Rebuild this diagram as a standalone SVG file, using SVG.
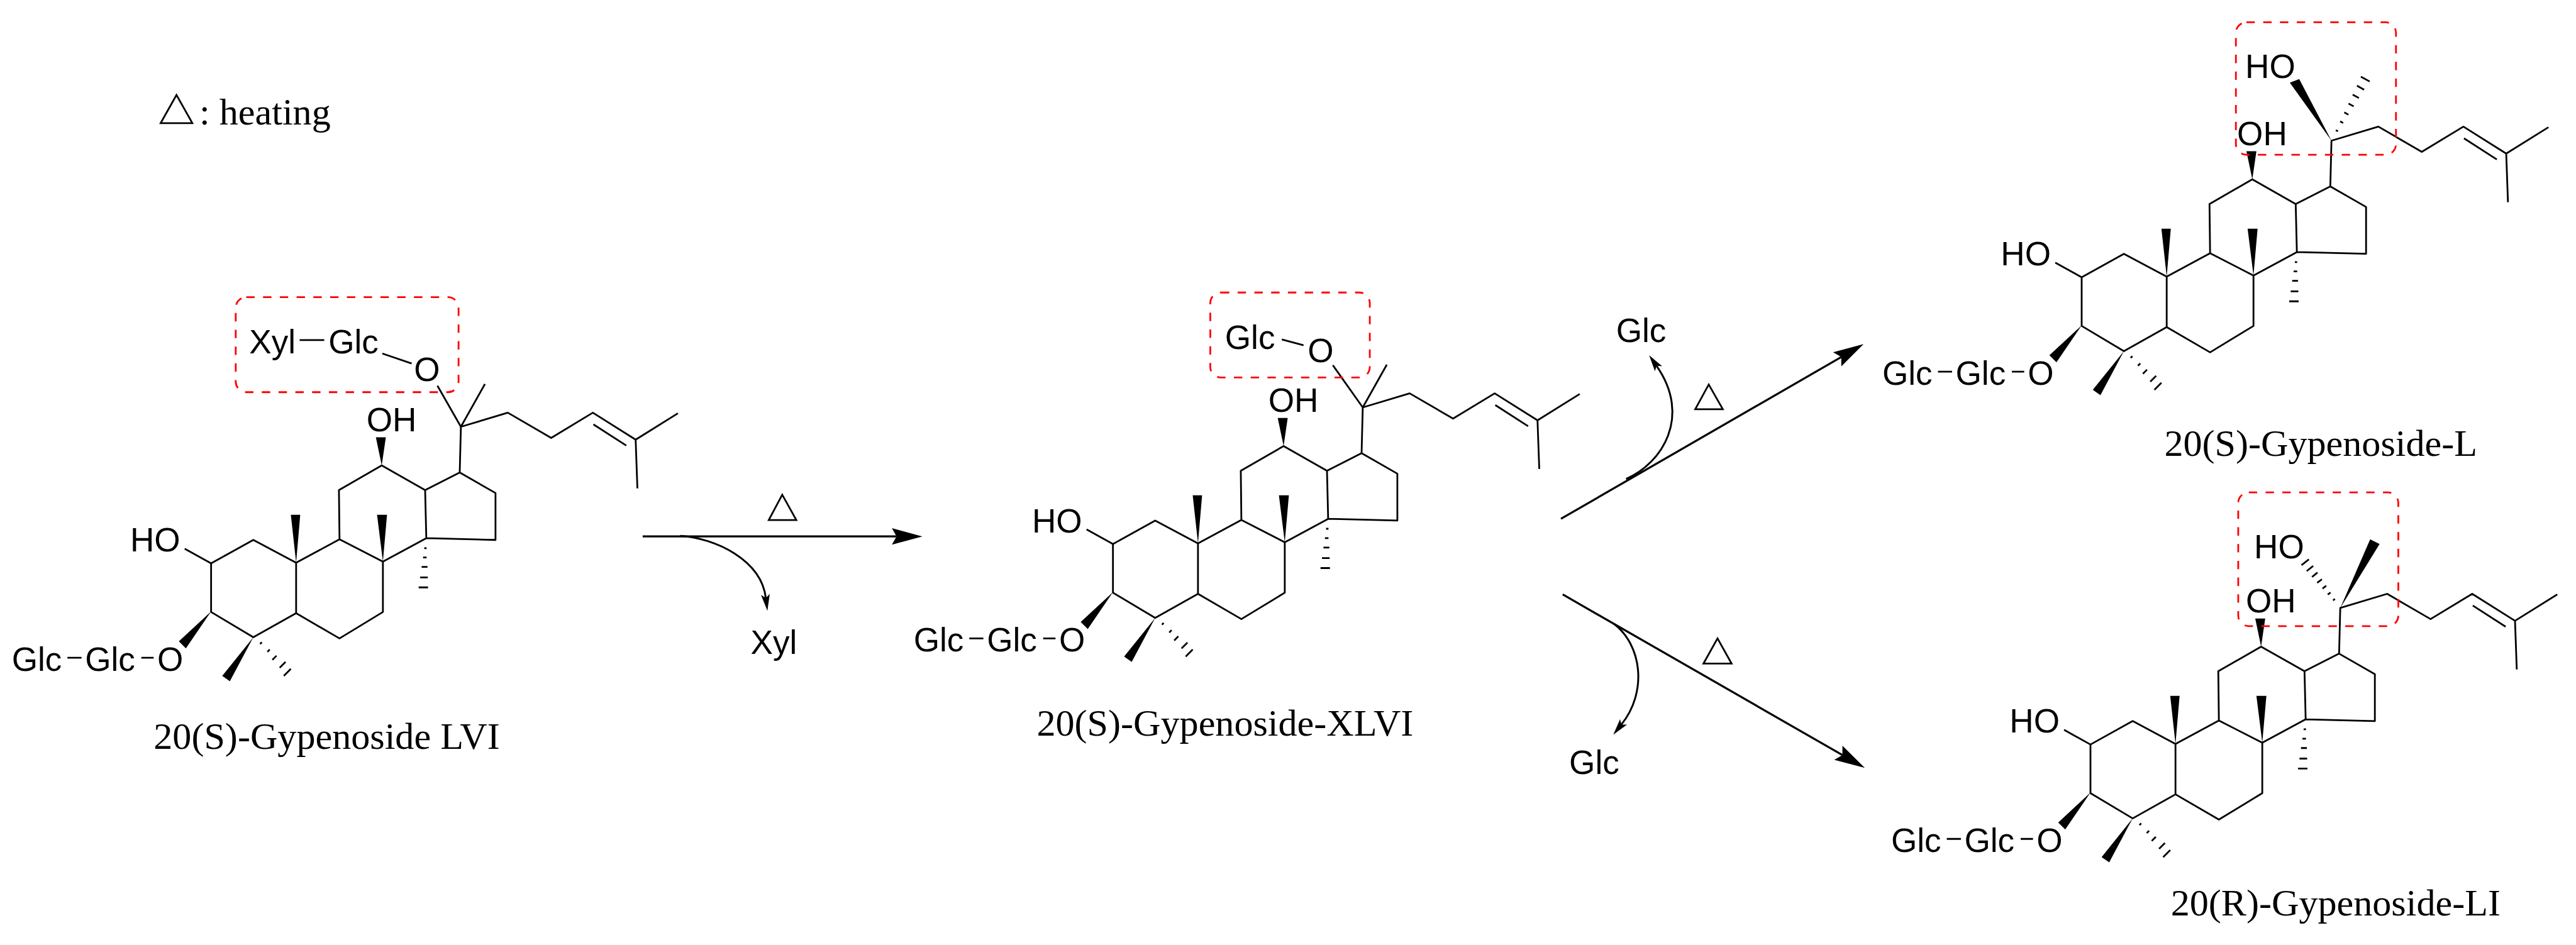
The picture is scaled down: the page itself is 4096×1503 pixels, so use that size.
<svg xmlns="http://www.w3.org/2000/svg" width="4096" height="1503" viewBox="0 0 4096 1503">
<style>
.b{fill:none;stroke:#000;stroke-width:3;stroke-linecap:butt;stroke-linejoin:round}
.h{fill:none;stroke:#000;stroke-width:3}
.w{fill:#000;stroke:none}
.s{font-family:"Liberation Sans",Arial,sans-serif;font-size:57px;fill:#000}
.t{font-family:"Liberation Serif","Times New Roman",serif;font-size:64.5px;fill:#000}
.box{fill:none;stroke:#f00;stroke-width:3;stroke-dasharray:14.300 14.300}
.arrow{fill:none;stroke:#000;stroke-width:3.5}
.curve{fill:none;stroke:#000;stroke-width:3.2}
.delta{fill:none;stroke:#000;stroke-width:3}
</style>
<defs>
<marker id="big" markerUnits="userSpaceOnUse" markerWidth="56" markerHeight="32" viewBox="0 0 56 32" refX="8" refY="16" orient="auto"><path d="M52,16L0,2L8,16L0,30Z" fill="#000"/></marker>
<marker id="small" markerUnits="userSpaceOnUse" markerWidth="30" markerHeight="18" viewBox="0 0 30 18" refX="6" refY="9" orient="auto"><path d="M28,9L0,1.500L6,9L0,16.500Z" fill="#000"/></marker>
<g id="sk">
<path class="b" d="M315,936L360,961L432,921L505,960L579,920L653,958L727,918L725,836L651,794L578,836L579,920M360,961V1044L432,1087L505,1046V960M505,1046L579,1089L653,1044V958M725,836L784,806L845,841V921L727,918M784,806L786,728L866,704L940,747L1011,704L1084,750L1156,705M1012,724L1068,760M1084,750L1087,833"/>
<path class="w" d="M651,794L641,746H658ZM505,960L496,878H512ZM653,958L643,878H660ZM360,1043L305,1094L317,1106ZM432,1087L379,1153L392,1162Z"/>
<path class="h" d="M723.500,935H727.500M721.500,951H727.500M719,967H729M716.500,985H729.500M714,1002H730M443.500,1098.500L446.500,1095.500M456,1112L460,1108M464.500,1125.500L471.500,1118.500M477,1139L487,1129M484,1153L496,1141"/>
<path class="b" d="M115,1122H139M241,1122H262"/>
</g>
</defs>
<g id="diagram" transform="scale(0.93239)">
<g id="legend">
<polygon class="delta" points="301,162 274,210 328,210"/>
<text class="t" x="340" y="212">: heating</text>
</g>
<g id="connectors">
<line class="arrow" x1="1096" y1="915" x2="1529" y2="915" marker-end="url(#big)"/>
<path class="curve" d="M1160,914C1220,918 1298,955 1306,1020" marker-end="url(#small)"/>
<line class="arrow" x1="2662" y1="885" x2="3140" y2="609" marker-end="url(#big)"/>
<path class="curve" d="M2773,817C2835,790 2885,710 2825,624" marker-end="url(#small)"/>
<line class="arrow" x1="2665" y1="1014" x2="3142" y2="1288" marker-end="url(#big)"/>
<path class="curve" d="M2752,1064C2800,1100 2810,1180 2765,1236" marker-end="url(#small)"/>
</g>
<g id="reaction-labels">
<polygon class="delta" points="1334,844 1311,887 1358,887"/>
<polygon class="delta" points="2914,656 2891,698 2938,698"/>
<polygon class="delta" points="2929,1089 2905,1132 2953,1132"/>
<text class="s" x="1280" y="1115">Xyl</text>
<text class="s" x="2756" y="583">Glc</text>
<text class="s" x="2676" y="1320">Glc</text>
</g>
<g id="gypenoside-LVI">
<use href="#sk"/>
<text class="s" x="222" y="941">HO</text><text class="s" x="625" y="736">OH</text>
<text class="s" x="20" y="1144">Glc</text><text class="s" x="145" y="1144">Glc</text><text class="s" x="268" y="1144">O</text>
<path class="b" d="M786,728L746,658M786,728L827,655M652,603L702,620M511,580H553"/>
<text class="s" x="425" y="603">Xyl</text><text class="s" x="560" y="603">Glc</text><text class="s" x="706" y="650">O</text>
<rect class="box" x="402" y="507" width="380" height="162" rx="18"/>
<text class="t" x="262" y="1277">20(S)-Gypenoside LVI</text>
</g>
<g id="gypenoside-XLVI" transform="translate(1538,-33)">
<use href="#sk"/>
<text class="s" x="222" y="941">HO</text><text class="s" x="625" y="736">OH</text>
<text class="s" x="20" y="1144">Glc</text><text class="s" x="145" y="1144">Glc</text><text class="s" x="268" y="1144">O</text>
<path class="b" d="M786,728L735,656M786,728L827,655M648,612L685,622"/>
<text class="s" x="551" y="628">Glc</text><text class="s" x="692" y="651">O</text>
<rect class="box" x="526" y="532" width="272" height="145" rx="18"/>
<text class="t" x="230" y="1288">20(S)-Gypenoside-XLVI</text>
</g>
<g id="gypenoside-L" transform="translate(3190,-488)">
<use href="#sk"/>
<text class="s" x="222" y="941">HO</text><text class="s" x="625" y="736">OH</text>
<text class="s" x="20" y="1144">Glc</text><text class="s" x="145" y="1144">Glc</text><text class="s" x="268" y="1144">O</text>
<path class="w" d="M786,728L715,629L731,623Z"/>
<path class="h" d="M793.500,710L797.100,712M800.800,695L806,697.800M807.900,679.800L814.900,683.600M815.100,664.600L823.900,669.400M822.200,649.400L832.800,655.200M829.500,634.200L841.700,641M836.200,618.800L851.200,627"/>
<text class="s" x="639" y="621">HO</text>
<rect class="box" x="623" y="526" width="273" height="226" rx="18"/>
<text class="t" x="501" y="1266">20(S)-Gypenoside-L</text>
</g>
<g id="gypenoside-LI" transform="translate(3205,309)">
<use href="#sk"/>
<text class="s" x="222" y="941">HO</text><text class="s" x="625" y="736">OH</text>
<text class="s" x="20" y="1144">Glc</text><text class="s" x="145" y="1144">Glc</text><text class="s" x="268" y="1144">O</text>
<path class="w" d="M786,728L837,611L853,619Z"/>
<path class="h" d="M773.700,715.200L776.900,712.800M764.700,705.200L769.500,701.600M755.700,695.100L762.100,690.300M746.700,685.100L754.700,679.100M737.800,675.100L747.200,667.700M728.800,665.100L739.800,656.500M719.900,655L732.500,645.200"/>
<text class="s" x="639" y="643">HO</text>
<rect class="box" x="612" y="531" width="273" height="228" rx="18"/>
<text class="t" x="497" y="1253">20(R)-Gypenoside-LI</text>
</g>
</g>
</svg>
